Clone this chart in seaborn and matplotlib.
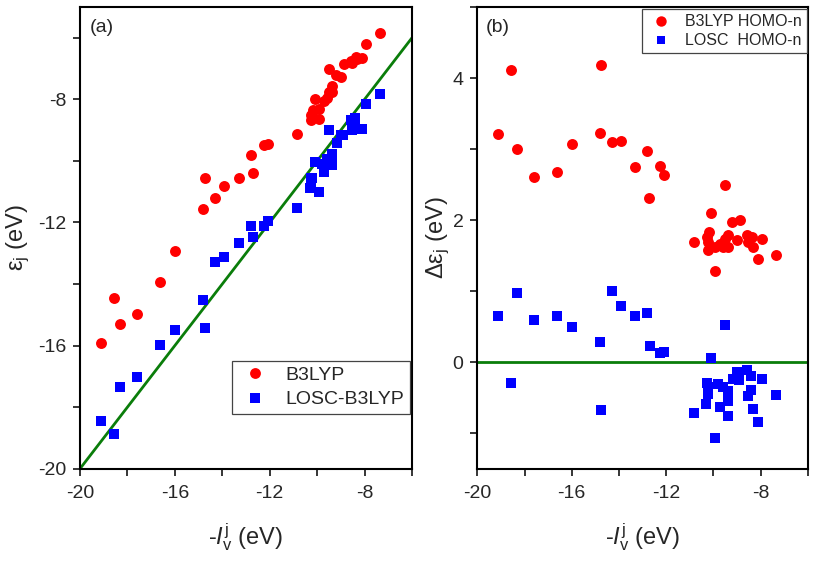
import matplotlib
matplotlib.use("Agg")
import matplotlib.pyplot as plt
from matplotlib.lines import Line2D
from matplotlib.ticker import MultipleLocator
import seaborn as sns
import pandas as pd

# ---------------- data ----------------
iv_b3lyp = [-19.11, -18.57, -18.31, -17.60, -16.62, -16.00, -14.75, -14.80, -14.31, -13.91,
            -13.31, -12.80, -12.71, -12.26, -12.09, -9.52, -10.08, -10.83, -9.19, -8.87,
            -10.18, -10.28, -10.21, -10.24, -9.94, -9.72, -9.51, -9.36, -9.39, -9.93,
            -9.58, -9.01, -8.56, -8.37, -8.52, -8.31, -7.92, -8.12, -7.36]
eps_b3lyp = [-15.90, -14.46, -15.31, -14.99, -13.94, -12.93, -10.56, -11.57, -11.21, -10.80,
             -10.56, -9.82, -10.40, -9.49, -9.46, -7.03, -7.98, -9.14, -7.22, -6.86,
             -8.35, -8.52, -8.52, -8.66, -8.65, -8.05, -7.77, -7.57, -7.77, -8.30,
             -7.95, -7.29, -6.77, -6.61, -6.83, -6.68, -6.19, -6.66, -5.85]
delta_b3lyp = [3.21, 4.11, 3.00, 2.61, 2.68, 3.07, 4.19, 3.23, 3.10, 3.11,
               2.75, 2.98, 2.31, 2.77, 2.63, 2.49, 2.10, 1.69, 1.97, 2.01,
               1.83, 1.76, 1.69, 1.58, 1.29, 1.67, 1.74, 1.79, 1.62, 1.63,
               1.63, 1.72, 1.79, 1.76, 1.69, 1.63, 1.73, 1.46, 1.51]

iv_losc = [-19.11, -18.32, -18.57, -17.61, -16.62, -16.00, -14.81, -14.75, -14.31, -13.91,
           -13.31, -12.81, -12.69, -12.25, -12.09, -9.52, -10.08, -10.83, -9.94, -10.27,
           -10.21, -10.24, -10.30, -9.81, -9.60, -9.36, -9.36, -9.72, -9.39, -9.01,
           -9.18, -8.90, -8.56, -8.42, -8.42, -8.53, -7.92, -8.32, -8.12, -7.36]
eps_losc = [-18.46, -17.34, -18.86, -17.02, -15.97, -15.50, -14.53, -15.42, -13.30, -13.12,
            -12.66, -12.11, -12.46, -12.12, -11.95, -8.99, -10.02, -11.54, -11.01, -10.56,
            -10.56, -10.68, -10.88, -10.11, -9.95, -9.76, -9.90, -10.35, -10.14, -9.15,
            -9.42, -9.15, -8.67, -8.61, -8.81, -9.00, -8.16, -8.97, -8.96, -7.82]
delta_losc = [0.65, 0.98, -0.29, 0.59, 0.65, 0.50, 0.28, -0.67, 1.01, 0.79,
              0.65, 0.70, 0.23, 0.13, 0.14, 0.53, 0.06, -0.71, -1.07, -0.29,
              -0.35, -0.44, -0.58, -0.30, -0.35, -0.40, -0.54, -0.63, -0.75, -0.14,
              -0.24, -0.25, -0.11, -0.19, -0.39, -0.47, -0.24, -0.65, -0.84, -0.46]

diag_x = [-20, -6]
zero_x = [-20, -6]
zero_y = [0, 0]

x_ticks = [-20, -16, -12, -8]
y_ticks_a = [-20, -16, -12, -8]
y_ticks_b = [0, 2, 4]

labels_a = ["B3LYP", "LOSC-B3LYP"]
labels_b = ["B3LYP HOMO-n", "LOSC  HOMO-n"]

# ---------------- style ----------------
sns.set_theme(style="white")
plt.rcParams["font.family"] = ["Liberation Sans", "DejaVu Sans"]
plt.rcParams["mathtext.fontset"] = "custom"
plt.rcParams["mathtext.rm"] = "Liberation Sans"
plt.rcParams["mathtext.it"] = "Liberation Sans:italic"
plt.rcParams["mathtext.bf"] = "Liberation Sans:bold"

RED = "#ff0000"
BLUE = "#0000ff"
GREEN = "#0a7d0a"

fig = plt.figure(figsize=(8.31, 5.68), dpi=100)
ax1 = fig.add_axes([80/831, 1-468.7/568, 332/831, 461.7/568])
ax2 = fig.add_axes([477.3/831, 1-469/568, 330.4/831, 462/568])

df_a_r = pd.DataFrame({"x": iv_b3lyp, "y": eps_b3lyp})
df_a_b = pd.DataFrame({"x": iv_losc, "y": eps_losc})
df_b_r = pd.DataFrame({"x": iv_b3lyp, "y": delta_b3lyp})
df_b_b = pd.DataFrame({"x": iv_losc, "y": delta_losc})

# panel (a)
sns.lineplot(x=diag_x, y=diag_x, ax=ax1, color=GREEN, linewidth=2, zorder=1)
sns.scatterplot(data=df_a_r, x="x", y="y", ax=ax1, color=RED, marker="o", s=62,
                linewidth=0, zorder=3)
sns.scatterplot(data=df_a_b, x="x", y="y", ax=ax1, color=BLUE, marker="s", s=46,
                linewidth=0, zorder=3)

# panel (b)
sns.lineplot(x=zero_x, y=zero_y, ax=ax2, color=GREEN, linewidth=2, zorder=1)
sns.scatterplot(data=df_b_r, x="x", y="y", ax=ax2, color=RED, marker="o", s=62,
                linewidth=0, zorder=3)
sns.scatterplot(data=df_b_b, x="x", y="y", ax=ax2, color=BLUE, marker="s", s=46,
                linewidth=0, zorder=3)

ax1.set_xlim(-20, -6)
ax1.set_ylim(-20, -5)
ax2.set_xlim(-20, -6)
ax2.set_ylim(-1.5, 5)

for ax in (ax1, ax2):
    ax.set_xticks(x_ticks)
    ax.set_xticklabels([str(t) for t in x_ticks])
    ax.xaxis.set_minor_locator(MultipleLocator(2))
    ax.tick_params(which="both", direction="out", length=5, width=1.1,
                   color="black", labelsize=14, pad=5,
                   bottom=True, left=True, top=False, right=False)
    ax.tick_params(axis="x", which="both", pad=6.5)
    for sp in ax.spines.values():
        sp.set_linewidth(1.5)
        sp.set_color("black")
    ax.set_xlabel(r"-$\mathit{I}_{\mathrm{v}}^{\mathrm{j}}$ (eV)", fontsize=17, labelpad=14)

ax1.set_yticks(y_ticks_a)
ax1.set_yticklabels([str(t) for t in y_ticks_a])
ax1.yaxis.set_minor_locator(MultipleLocator(2))
ax2.set_yticks(y_ticks_b)
ax2.set_yticklabels([str(t) for t in y_ticks_b])
ax2.yaxis.set_minor_locator(MultipleLocator(1))

ax1.set_ylabel(r"ε$_{\mathrm{j}}$ (eV)", fontsize=17)
ax2.set_ylabel(r"Δε$_{\mathrm{j}}$ (eV)", fontsize=17)
ax1.yaxis.set_label_coords(-0.146, 0.5)
ax2.yaxis.set_label_coords(-0.078, 0.5)

ax1.text(0.03, 0.975, "(a)", transform=ax1.transAxes, fontsize=14, va="top", ha="left")
ax2.text(0.025, 0.975, "(b)", transform=ax2.transAxes, fontsize=14, va="top", ha="left")

# legends
h_a = [Line2D([], [], linestyle="none", marker="o", color=RED, markersize=7.8, markeredgewidth=0),
       Line2D([], [], linestyle="none", marker="s", color=BLUE, markersize=6.8, markeredgewidth=0)]
leg1 = ax1.legend(h_a, labels_a, loc="lower right", bbox_to_anchor=(0.994, 0.118),
                  borderaxespad=0, fontsize=14, frameon=True, fancybox=False,
                  framealpha=1, edgecolor="#444444", handlelength=1.8,
                  handletextpad=0.65, labelspacing=0.35, borderpad=0.3)
leg1.get_frame().set_linewidth(0.9)

h_b = [Line2D([], [], linestyle="none", marker="o", color=RED, markersize=7.5, markeredgewidth=0),
       Line2D([], [], linestyle="none", marker="s", color=BLUE, markersize=5.5, markeredgewidth=0)]
leg2 = ax2.legend(h_b, labels_b, loc="upper right", bbox_to_anchor=(0.997, 0.995),
                  borderaxespad=0, fontsize=11.5, frameon=True, fancybox=False,
                  framealpha=1, edgecolor="#444444", handlelength=1.8,
                  handletextpad=0.6, labelspacing=0.25, borderpad=0.3)
leg2.get_frame().set_linewidth(0.9)

fig.savefig("out.png", dpi=100)
